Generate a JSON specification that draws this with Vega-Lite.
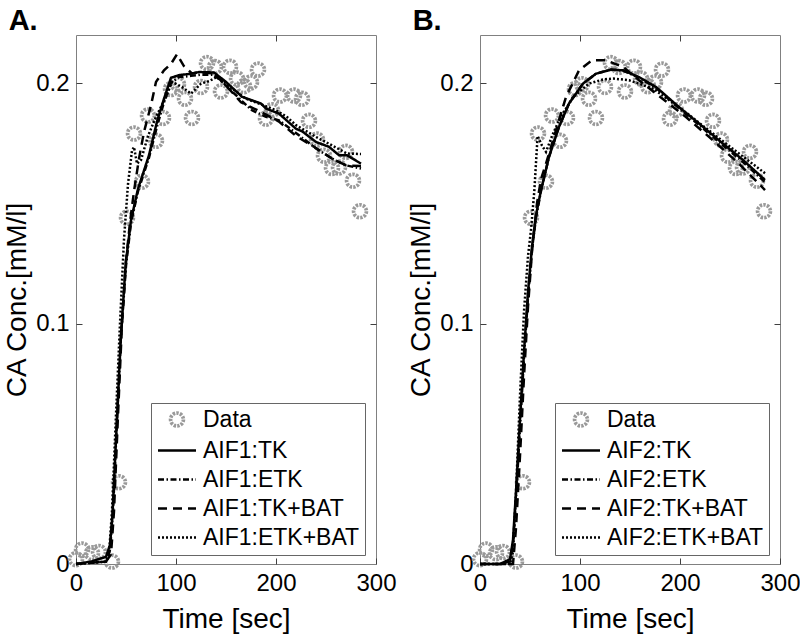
{
"$schema": "https://vega.github.io/schema/vega-lite/v6.json",
"background": "white",
"padding": {"left": 3, "top": 6, "right": 5, "bottom": 5},
"config": {
  "font": "Liberation Sans",
  "view": {"stroke": "#808080", "strokeWidth": 1},
  "axis": {"grid": false, "domain": false, "tickColor": "#404040", "tickSize": -6, "labelFontSize": 24, "labelColor": "#000", "titleFontSize": 28, "titleFontWeight": "normal", "titleColor": "#000", "labelPadding": 13, "labelFont": "Liberation Sans", "titleFont": "Liberation Sans"},
  "axisX": {"titlePadding": 10},
  "title": {"fontSize": 29, "fontWeight": "bold", "anchor": "start", "color": "#000", "font": "Liberation Sans"},
  "legend": {"orient": "none", "legendX": 75, "legendY": 368, "symbolOffset": 9.5, "labelOffset": 14.5, "labelFontSize": 23, "labelFont": "Liberation Sans", "labelColor": "#000", "labelLimit": 400, "rowPadding": 5, "padding": 5, "strokeColor": "#666666", "fillColor": "#ffffff", "symbolFillColor": "transparent"}
},
"datasets": {
  "obsA": [{"s":"Data","t":0,"c":0.002},{"s":"Data","t":6,"c":0.006},{"s":"Data","t":16,"c":0.0045},{"s":"Data","t":23,"c":0.005},{"s":"Data","t":36,"c":0.001},{"s":"Data","t":43,"c":0.034},{"s":"Data","t":51,"c":0.144},{"s":"Data","t":58,"c":0.179},{"s":"Data","t":66,"c":0.159},{"s":"Data","t":72,"c":0.1865},{"s":"Data","t":80,"c":0.176},{"s":"Data","t":87,"c":0.1855},{"s":"Data","t":95,"c":0.1975},{"s":"Data","t":102,"c":0.1995},{"s":"Data","t":109,"c":0.1935},{"s":"Data","t":116,"c":0.1855},{"s":"Data","t":125,"c":0.1984},{"s":"Data","t":131,"c":0.2083},{"s":"Data","t":139,"c":0.2067},{"s":"Data","t":145,"c":0.1965},{"s":"Data","t":154,"c":0.2068},{"s":"Data","t":161,"c":0.2019},{"s":"Data","t":168,"c":0.1987},{"s":"Data","t":175,"c":0.2003},{"s":"Data","t":182,"c":0.2056},{"s":"Data","t":190,"c":0.1852},{"s":"Data","t":196,"c":0.1887},{"s":"Data","t":204,"c":0.1948},{"s":"Data","t":218,"c":0.1948},{"s":"Data","t":226,"c":0.1935},{"s":"Data","t":233,"c":0.1843},{"s":"Data","t":241,"c":0.1765},{"s":"Data","t":248,"c":0.1698},{"s":"Data","t":256,"c":0.1647},{"s":"Data","t":263,"c":0.1649},{"s":"Data","t":270,"c":0.1714},{"s":"Data","t":277,"c":0.1594},{"s":"Data","t":284,"c":0.1467}],
  "lineA": [
    {"s":"AIF1:TK","t":0,"c":0},{"s":"AIF1:TK","t":15,"c":0.001},{"s":"AIF1:TK","t":30,"c":0.003},{"s":"AIF1:TK","t":34,"c":0.008},{"s":"AIF1:TK","t":36.3,"c":0.019},{"s":"AIF1:TK","t":41.3,"c":0.063},{"s":"AIF1:TK","t":44.7,"c":0.093},{"s":"AIF1:TK","t":49.7,"c":0.125},{"s":"AIF1:TK","t":55,"c":0.143},{"s":"AIF1:TK","t":62,"c":0.156},{"s":"AIF1:TK","t":73,"c":0.17},{"s":"AIF1:TK","t":81,"c":0.184},{"s":"AIF1:TK","t":88,"c":0.1935},{"s":"AIF1:TK","t":95,"c":0.2022},{"s":"AIF1:TK","t":103,"c":0.2033},{"s":"AIF1:TK","t":115,"c":0.2039},{"s":"AIF1:TK","t":123,"c":0.2046},{"s":"AIF1:TK","t":138,"c":0.2044},{"s":"AIF1:TK","t":150,"c":0.2005},{"s":"AIF1:TK","t":166,"c":0.1943},{"s":"AIF1:TK","t":185,"c":0.1915},{"s":"AIF1:TK","t":190,"c":0.1894},{"s":"AIF1:TK","t":203,"c":0.1873},{"s":"AIF1:TK","t":220,"c":0.181},{"s":"AIF1:TK","t":226,"c":0.18},{"s":"AIF1:TK","t":240,"c":0.1755},{"s":"AIF1:TK","t":253,"c":0.1735},{"s":"AIF1:TK","t":263,"c":0.17},{"s":"AIF1:TK","t":271,"c":0.17},{"s":"AIF1:TK","t":285,"c":0.1665},
    {"s":"AIF1:ETK","t":0,"c":0},{"s":"AIF1:ETK","t":31,"c":0.001},{"s":"AIF1:ETK","t":34,"c":0.006},{"s":"AIF1:ETK","t":37,"c":0.022},{"s":"AIF1:ETK","t":41,"c":0.06},{"s":"AIF1:ETK","t":45,"c":0.095},{"s":"AIF1:ETK","t":50,"c":0.124},{"s":"AIF1:ETK","t":55,"c":0.142},{"s":"AIF1:ETK","t":62,"c":0.155},{"s":"AIF1:ETK","t":73,"c":0.169},{"s":"AIF1:ETK","t":81,"c":0.182},{"s":"AIF1:ETK","t":88,"c":0.192},{"s":"AIF1:ETK","t":95,"c":0.2},{"s":"AIF1:ETK","t":103,"c":0.2025},{"s":"AIF1:ETK","t":115,"c":0.203},{"s":"AIF1:ETK","t":125,"c":0.2035},{"s":"AIF1:ETK","t":138,"c":0.2035},{"s":"AIF1:ETK","t":150,"c":0.199},{"s":"AIF1:ETK","t":166,"c":0.1925},{"s":"AIF1:ETK","t":176,"c":0.1887},{"s":"AIF1:ETK","t":190,"c":0.186},{"s":"AIF1:ETK","t":203,"c":0.1845},{"s":"AIF1:ETK","t":223,"c":0.1783},{"s":"AIF1:ETK","t":240,"c":0.1728},{"s":"AIF1:ETK","t":256,"c":0.1686},{"s":"AIF1:ETK","t":270,"c":0.1658},{"s":"AIF1:ETK","t":278,"c":0.1651},{"s":"AIF1:ETK","t":285,"c":0.1645},
    {"s":"AIF1:TK+BAT","t":0,"c":0},{"s":"AIF1:TK+BAT","t":30,"c":0.001},{"s":"AIF1:TK+BAT","t":35,"c":0.004},{"s":"AIF1:TK+BAT","t":38,"c":0.022},{"s":"AIF1:TK+BAT","t":42,"c":0.062},{"s":"AIF1:TK+BAT","t":46,"c":0.1},{"s":"AIF1:TK+BAT","t":50,"c":0.126},{"s":"AIF1:TK+BAT","t":54,"c":0.142},{"s":"AIF1:TK+BAT","t":58,"c":0.155},{"s":"AIF1:TK+BAT","t":63,"c":0.1686},{"s":"AIF1:TK+BAT","t":68,"c":0.1797},{"s":"AIF1:TK+BAT","t":75,"c":0.1908},{"s":"AIF1:TK+BAT","t":80,"c":0.2005},{"s":"AIF1:TK+BAT","t":88,"c":0.2053},{"s":"AIF1:TK+BAT","t":95,"c":0.208},{"s":"AIF1:TK+BAT","t":101,"c":0.212},{"s":"AIF1:TK+BAT","t":108,"c":0.207},{"s":"AIF1:TK+BAT","t":116,"c":0.204},{"s":"AIF1:TK+BAT","t":125,"c":0.2045},{"s":"AIF1:TK+BAT","t":138,"c":0.204},{"s":"AIF1:TK+BAT","t":150,"c":0.199},{"s":"AIF1:TK+BAT","t":165,"c":0.192},{"s":"AIF1:TK+BAT","t":185,"c":0.188},{"s":"AIF1:TK+BAT","t":203,"c":0.184},{"s":"AIF1:TK+BAT","t":220,"c":0.178},{"s":"AIF1:TK+BAT","t":240,"c":0.173},{"s":"AIF1:TK+BAT","t":256,"c":0.1686},{"s":"AIF1:TK+BAT","t":270,"c":0.1658},{"s":"AIF1:TK+BAT","t":285,"c":0.1655},
    {"s":"AIF1:ETK+BAT","t":0,"c":0},{"s":"AIF1:ETK+BAT","t":30,"c":0.001},{"s":"AIF1:ETK+BAT","t":33,"c":0.004},{"s":"AIF1:ETK+BAT","t":36,"c":0.022},{"s":"AIF1:ETK+BAT","t":40,"c":0.062},{"s":"AIF1:ETK+BAT","t":44,"c":0.1},{"s":"AIF1:ETK+BAT","t":48,"c":0.135},{"s":"AIF1:ETK+BAT","t":52,"c":0.158},{"s":"AIF1:ETK+BAT","t":56,"c":0.172},{"s":"AIF1:ETK+BAT","t":58,"c":0.1734},{"s":"AIF1:ETK+BAT","t":61,"c":0.1665},{"s":"AIF1:ETK+BAT","t":65,"c":0.168},{"s":"AIF1:ETK+BAT","t":72,"c":0.178},{"s":"AIF1:ETK+BAT","t":80,"c":0.186},{"s":"AIF1:ETK+BAT","t":90,"c":0.1942},{"s":"AIF1:ETK+BAT","t":96,"c":0.2005},{"s":"AIF1:ETK+BAT","t":106,"c":0.1984},{"s":"AIF1:ETK+BAT","t":115,"c":0.1956},{"s":"AIF1:ETK+BAT","t":125,"c":0.1998},{"s":"AIF1:ETK+BAT","t":133,"c":0.2008},{"s":"AIF1:ETK+BAT","t":141,"c":0.2026},{"s":"AIF1:ETK+BAT","t":156,"c":0.1977},{"s":"AIF1:ETK+BAT","t":170,"c":0.1935},{"s":"AIF1:ETK+BAT","t":186,"c":0.191},{"s":"AIF1:ETK+BAT","t":200,"c":0.1887},{"s":"AIF1:ETK+BAT","t":211,"c":0.1859},{"s":"AIF1:ETK+BAT","t":220,"c":0.1825},{"s":"AIF1:ETK+BAT","t":240,"c":0.1776},{"s":"AIF1:ETK+BAT","t":256,"c":0.1741},{"s":"AIF1:ETK+BAT","t":271,"c":0.1707},{"s":"AIF1:ETK+BAT","t":285,"c":0.1705}
  ],
  "lineB": [
    {"s":"AIF2:TK","t":0,"c":0},{"s":"AIF2:TK","t":20,"c":0},{"s":"AIF2:TK","t":30,"c":0.002},{"s":"AIF2:TK","t":33,"c":0.01},{"s":"AIF2:TK","t":36,"c":0.03},{"s":"AIF2:TK","t":40,"c":0.06},{"s":"AIF2:TK","t":44,"c":0.088},{"s":"AIF2:TK","t":48,"c":0.113},{"s":"AIF2:TK","t":52,"c":0.132},{"s":"AIF2:TK","t":56,"c":0.145},{"s":"AIF2:TK","t":61,"c":0.1554},{"s":"AIF2:TK","t":69,"c":0.1693},{"s":"AIF2:TK","t":79,"c":0.1818},{"s":"AIF2:TK","t":89,"c":0.1915},{"s":"AIF2:TK","t":103,"c":0.1998},{"s":"AIF2:TK","t":116,"c":0.2039},{"s":"AIF2:TK","t":131,"c":0.2056},{"s":"AIF2:TK","t":143,"c":0.2053},{"s":"AIF2:TK","t":159,"c":0.2025},{"s":"AIF2:TK","t":176,"c":0.1984},{"s":"AIF2:TK","t":199,"c":0.19},{"s":"AIF2:TK","t":219,"c":0.1832},{"s":"AIF2:TK","t":239,"c":0.1762},{"s":"AIF2:TK","t":263,"c":0.168},{"s":"AIF2:TK","t":285,"c":0.1597},
    {"s":"AIF2:ETK","t":0,"c":0},{"s":"AIF2:ETK","t":20,"c":0},{"s":"AIF2:ETK","t":30,"c":0.001},{"s":"AIF2:ETK","t":33,"c":0.008},{"s":"AIF2:ETK","t":36,"c":0.027},{"s":"AIF2:ETK","t":40,"c":0.057},{"s":"AIF2:ETK","t":44,"c":0.086},{"s":"AIF2:ETK","t":48,"c":0.111},{"s":"AIF2:ETK","t":52,"c":0.131},{"s":"AIF2:ETK","t":56,"c":0.144},{"s":"AIF2:ETK","t":61,"c":0.1552},{"s":"AIF2:ETK","t":69,"c":0.1693},{"s":"AIF2:ETK","t":79,"c":0.1818},{"s":"AIF2:ETK","t":89,"c":0.1915},{"s":"AIF2:ETK","t":103,"c":0.1998},{"s":"AIF2:ETK","t":116,"c":0.2039},{"s":"AIF2:ETK","t":131,"c":0.2056},{"s":"AIF2:ETK","t":143,"c":0.2052},{"s":"AIF2:ETK","t":159,"c":0.2022},{"s":"AIF2:ETK","t":176,"c":0.198},{"s":"AIF2:ETK","t":199,"c":0.1895},{"s":"AIF2:ETK","t":219,"c":0.1826},{"s":"AIF2:ETK","t":239,"c":0.1755},{"s":"AIF2:ETK","t":263,"c":0.1672},{"s":"AIF2:ETK","t":285,"c":0.1588},
    {"s":"AIF2:TK+BAT","t":0,"c":0},{"s":"AIF2:TK+BAT","t":33,"c":0},{"s":"AIF2:TK+BAT","t":36,"c":0.015},{"s":"AIF2:TK+BAT","t":40,"c":0.045},{"s":"AIF2:TK+BAT","t":44,"c":0.078},{"s":"AIF2:TK+BAT","t":48,"c":0.107},{"s":"AIF2:TK+BAT","t":52,"c":0.13},{"s":"AIF2:TK+BAT","t":57,"c":0.15},{"s":"AIF2:TK+BAT","t":61,"c":0.16},{"s":"AIF2:TK+BAT","t":66,"c":0.1665},{"s":"AIF2:TK+BAT","t":76,"c":0.1804},{"s":"AIF2:TK+BAT","t":86,"c":0.1942},{"s":"AIF2:TK+BAT","t":99,"c":0.2053},{"s":"AIF2:TK+BAT","t":112,"c":0.2095},{"s":"AIF2:TK+BAT","t":126,"c":0.2095},{"s":"AIF2:TK+BAT","t":143,"c":0.2067},{"s":"AIF2:TK+BAT","t":159,"c":0.2012},{"s":"AIF2:TK+BAT","t":176,"c":0.1956},{"s":"AIF2:TK+BAT","t":206,"c":0.1859},{"s":"AIF2:TK+BAT","t":233,"c":0.1762},{"s":"AIF2:TK+BAT","t":259,"c":0.1665},{"s":"AIF2:TK+BAT","t":285,"c":0.1555},
    {"s":"AIF2:ETK+BAT","t":0,"c":0},{"s":"AIF2:ETK+BAT","t":30,"c":0},{"s":"AIF2:ETK+BAT","t":33,"c":0.005},{"s":"AIF2:ETK+BAT","t":36,"c":0.03},{"s":"AIF2:ETK+BAT","t":40,"c":0.07},{"s":"AIF2:ETK+BAT","t":44,"c":0.105},{"s":"AIF2:ETK+BAT","t":48,"c":0.128},{"s":"AIF2:ETK+BAT","t":51,"c":0.139},{"s":"AIF2:ETK+BAT","t":54.3,"c":0.155},{"s":"AIF2:ETK+BAT","t":57.6,"c":0.178},{"s":"AIF2:ETK+BAT","t":62,"c":0.174},{"s":"AIF2:ETK+BAT","t":66,"c":0.1714},{"s":"AIF2:ETK+BAT","t":72,"c":0.178},{"s":"AIF2:ETK+BAT","t":79,"c":0.1845},{"s":"AIF2:ETK+BAT","t":93,"c":0.1942},{"s":"AIF2:ETK+BAT","t":109,"c":0.1998},{"s":"AIF2:ETK+BAT","t":123,"c":0.2015},{"s":"AIF2:ETK+BAT","t":133,"c":0.2019},{"s":"AIF2:ETK+BAT","t":149,"c":0.2012},{"s":"AIF2:ETK+BAT","t":173,"c":0.1977},{"s":"AIF2:ETK+BAT","t":199,"c":0.19},{"s":"AIF2:ETK+BAT","t":233,"c":0.179},{"s":"AIF2:ETK+BAT","t":259,"c":0.1707},{"s":"AIF2:ETK+BAT","t":285,"c":0.1625}
  ]
},
"spacing": 104,
"bounds": "flush",
"resolve": {"scale": {"stroke": "independent", "strokeDash": "independent", "shape": "independent", "size": "independent", "strokeWidth": "independent"}},
"hconcat": [
  {
    "width": 300, "height": 529,
    "title": {"text": "A.", "offset": -1, "dx": 5},
    "resolve": {"axis": {"x": "independent", "y": "independent"}},
    "layer": [
      {
        "data": {"name": "obsA"},
        "mark": {"type": "point", "filled": false, "opacity": 1},
        "encoding": {
          "x": {"field": "t", "type": "quantitative", "scale": {"domain": [0, 300], "nice": false}, "axis": {"values": [0, 100, 200, 300], "title": "Time [sec]", "labelFlush": false}},
          "y": {"field": "c", "type": "quantitative", "scale": {"domain": [0, 0.22], "nice": false}, "axis": {"values": [0, 0.1, 0.2], "format": "~g", "title": "CA Conc.[mM/l]"}},
          "stroke": {"field": "s", "type": "nominal", "scale": {"domain": ["Data", "AIF1:TK", "AIF1:ETK", "AIF1:TK+BAT", "AIF1:ETK+BAT"], "range": ["#999999", "#000000", "#000000", "#000000", "#000000"]}, "legend": {"title": null}},
          "strokeDash": {"field": "s", "type": "nominal", "scale": {"domain": ["Data", "AIF1:TK", "AIF1:ETK", "AIF1:TK+BAT", "AIF1:ETK+BAT"], "range": [[2.4, 1.2], [1, 0], [6, 2.5, 1.5, 2.5], [9, 6], [2, 2]]}, "legend": {"title": null}},
          "shape": {"field": "s", "type": "nominal", "scale": {"domain": ["Data", "AIF1:TK", "AIF1:ETK", "AIF1:TK+BAT", "AIF1:ETK+BAT"], "range": ["circle", "M-2,0H2", "M-2,0H2", "M-2,0H2", "M-2,0H2"]}, "legend": {"title": null}},
          "size": {"field": "s", "type": "nominal", "scale": {"type": "ordinal", "domain": ["Data", "AIF1:TK", "AIF1:ETK", "AIF1:TK+BAT", "AIF1:ETK+BAT"], "range": [165, 361, 361, 361, 361]}, "legend": {"title": null}},
          "strokeWidth": {"field": "s", "type": "nominal", "scale": {"type": "ordinal", "domain": ["Data", "AIF1:TK", "AIF1:ETK", "AIF1:TK+BAT", "AIF1:ETK+BAT"], "range": [3.7, 2.5, 2.5, 2.5, 2.5]}, "legend": {"title": null}}
        }
      },
      {
        "data": {"name": "lineA"},
        "mark": {"type": "line", "strokeWidth": 2.5},
        "encoding": {
          "x": {"field": "t", "type": "quantitative", "scale": {"domain": [0, 300], "nice": false}, "axis": {"orient": "top", "labels": false, "title": null, "values": [100, 200]}},
          "y": {"field": "c", "type": "quantitative", "scale": {"domain": [0, 0.22], "nice": false}, "axis": {"orient": "right", "labels": false, "title": null, "values": [0.1, 0.2]}},
          "stroke": {"field": "s", "type": "nominal", "legend": {"title": null}},
          "strokeDash": {"field": "s", "type": "nominal", "legend": {"title": null}}
        }
      }
    ]
  },
  {
    "width": 300, "height": 529,
    "title": {"text": "B.", "offset": -1, "dx": 5},
    "resolve": {"axis": {"x": "independent", "y": "independent"}},
    "layer": [
      {
        "data": {"name": "obsA"},
        "mark": {"type": "point", "filled": false, "opacity": 1},
        "encoding": {
          "x": {"field": "t", "type": "quantitative", "scale": {"domain": [0, 300], "nice": false}, "axis": {"values": [0, 100, 200, 300], "title": "Time [sec]", "labelFlush": false}},
          "y": {"field": "c", "type": "quantitative", "scale": {"domain": [0, 0.22], "nice": false}, "axis": {"values": [0, 0.1, 0.2], "format": "~g", "title": "CA Conc.[mM/l]"}},
          "stroke": {"field": "s", "type": "nominal", "scale": {"domain": ["Data", "AIF2:TK", "AIF2:ETK", "AIF2:TK+BAT", "AIF2:ETK+BAT"], "range": ["#999999", "#000000", "#000000", "#000000", "#000000"]}, "legend": {"title": null}},
          "strokeDash": {"field": "s", "type": "nominal", "scale": {"domain": ["Data", "AIF2:TK", "AIF2:ETK", "AIF2:TK+BAT", "AIF2:ETK+BAT"], "range": [[2.4, 1.2], [1, 0], [6, 2.5, 1.5, 2.5], [9, 6], [2, 2]]}, "legend": {"title": null}},
          "shape": {"field": "s", "type": "nominal", "scale": {"domain": ["Data", "AIF2:TK", "AIF2:ETK", "AIF2:TK+BAT", "AIF2:ETK+BAT"], "range": ["circle", "M-2,0H2", "M-2,0H2", "M-2,0H2", "M-2,0H2"]}, "legend": {"title": null}},
          "size": {"field": "s", "type": "nominal", "scale": {"type": "ordinal", "domain": ["Data", "AIF2:TK", "AIF2:ETK", "AIF2:TK+BAT", "AIF2:ETK+BAT"], "range": [165, 361, 361, 361, 361]}, "legend": {"title": null}},
          "strokeWidth": {"field": "s", "type": "nominal", "scale": {"type": "ordinal", "domain": ["Data", "AIF2:TK", "AIF2:ETK", "AIF2:TK+BAT", "AIF2:ETK+BAT"], "range": [3.7, 2.5, 2.5, 2.5, 2.5]}, "legend": {"title": null}}
        }
      },
      {
        "data": {"name": "lineB"},
        "mark": {"type": "line", "strokeWidth": 2.5},
        "encoding": {
          "x": {"field": "t", "type": "quantitative", "scale": {"domain": [0, 300], "nice": false}, "axis": {"orient": "top", "labels": false, "title": null, "values": [100, 200]}},
          "y": {"field": "c", "type": "quantitative", "scale": {"domain": [0, 0.22], "nice": false}, "axis": {"orient": "right", "labels": false, "title": null, "values": [0.1, 0.2]}},
          "stroke": {"field": "s", "type": "nominal", "legend": {"title": null}},
          "strokeDash": {"field": "s", "type": "nominal", "legend": {"title": null}}
        }
      }
    ]
  }
]
}
